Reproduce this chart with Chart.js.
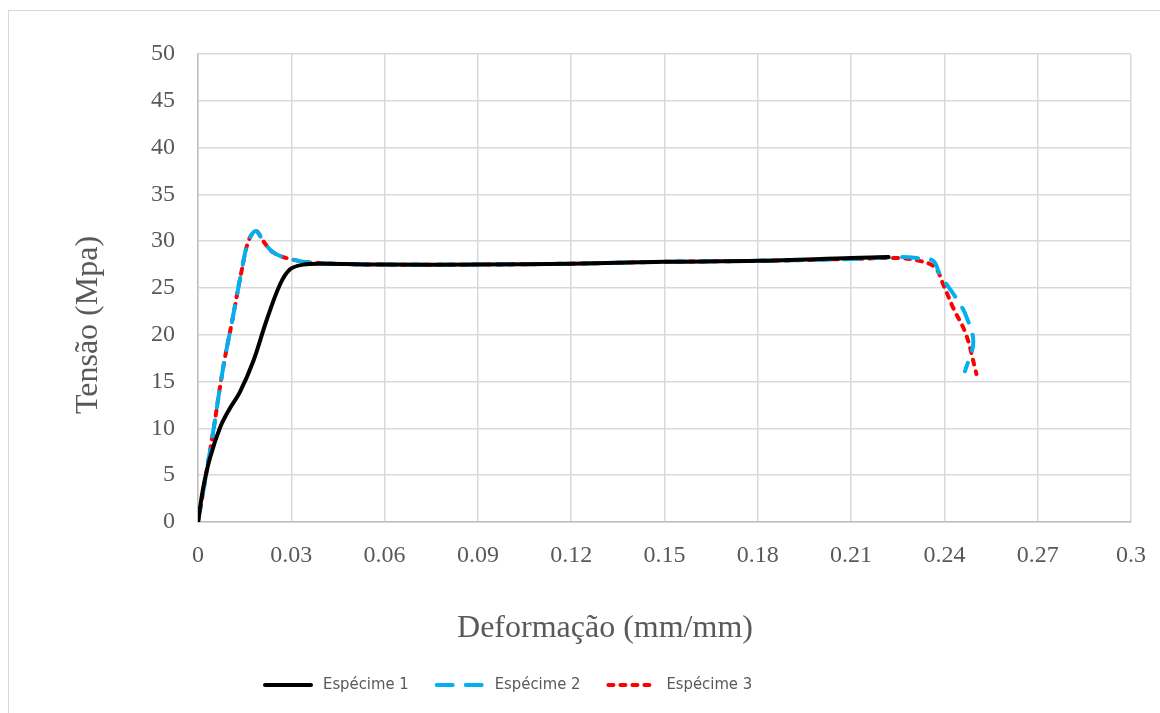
<!DOCTYPE html>
<html lang="pt">
<head>
<meta charset="utf-8">
<title>Tensão x Deformação</title>
<script src="https://cdn.jsdelivr.net/npm/chart.js@4.4.1/dist/chart.umd.min.js"></script>
<style>
  html, body { margin: 0; padding: 0; background: #fff; overflow: hidden; }
  .moldura { position: absolute; left: 8px; top: 10px; width: 1300px; height: 900px; border: 1px solid #d9d9d9; }
  #curvas { position: absolute; left: 0; top: 0; }
</style>
</head>
<body>
<div class="moldura"></div>
<canvas id="curvas" width="1160" height="713"></canvas>
<script>
// ticks dos eixos
const ticksX = [0, 0.03, 0.06, 0.09, 0.12, 0.15, 0.18, 0.21, 0.24, 0.27, 0.3];
const ticksY = [0, 5, 10, 15, 20, 25, 30, 35, 40, 45, 50];

// Espécime 1
const esp1X = [0, 0.0017, 0.0039, 0.0071, 0.0100, 0.0135, 0.0178, 0.0220, 0.0264, 0.0296, 0.0338, 0.040, 0.060, 0.090, 0.120, 0.150, 0.180, 0.210, 0.222];
const esp1Y = [0, 3.7, 6.9, 10.1, 12.0, 13.9, 17.2, 21.5, 25.4, 27.0, 27.5, 27.6, 27.5, 27.5, 27.6, 27.8, 27.9, 28.2, 28.3];

// Espécime 2
const esp2X = [0, 0.00225, 0.0049, 0.0081, 0.0114, 0.0140, 0.0162, 0.0186, 0.0210, 0.0242, 0.0296, 0.037, 0.0585, 0.090, 0.120, 0.150, 0.180, 0.210, 0.225, 0.231, 0.2364, 0.2385, 0.2444, 0.2470, 0.2493, 0.2466];
const esp2Y = [0, 4.4, 9.7, 16.5, 22.2, 26.8, 30.0, 31.1, 30.0, 28.8, 28.1, 27.7, 27.5, 27.5, 27.6, 27.8, 27.9, 28.1, 28.3, 28.2, 27.9, 26.5, 23.6, 22.0, 19.2, 16.1];

// Espécime 3
const esp3X = [0, 0.00225, 0.0049, 0.0081, 0.0114, 0.0140, 0.0162, 0.0186, 0.0210, 0.0242, 0.0296, 0.037, 0.0585, 0.090, 0.120, 0.150, 0.180, 0.210, 0.225, 0.232, 0.237, 0.2396, 0.2428, 0.2470, 0.2503];
const esp3Y = [0, 4.4, 9.7, 16.5, 22.2, 26.8, 30.0, 31.1, 30.0, 28.8, 28.1, 27.7, 27.5, 27.5, 27.6, 27.8, 27.9, 28.1, 28.2, 27.9, 27.2, 25.4, 22.9, 20.0, 15.8];

const pontos = (xs, ys) => xs.map((x, i) => ({ x: x, y: ys[i] }));

const corTexto = '#595959';
const fonteSerif = "'Liberation Serif', 'Times New Roman', serif";
const fonteSans = "'Liberation Sans Narrow', 'DejaVu Sans Condensed', 'Liberation Sans', sans-serif";

// titulos dos eixos e legenda desenhados na posição do original
const extras = {
  id: 'extras',
  afterDraw(chart) {
    const ctx = chart.ctx;
    ctx.save();
    ctx.fillStyle = corTexto;
    ctx.font = '32px ' + fonteSerif;
    ctx.textAlign = 'center';
    ctx.textBaseline = 'middle';
    ctx.fillText('Deformação (mm/mm)', 605, 629);

    ctx.save();
    ctx.translate(89, 325);
    ctx.rotate(-Math.PI / 2);
    ctx.fillText('Tensão (Mpa)', 0, 0);
    ctx.restore();

    // legenda
    ctx.font = '16.5px ' + fonteSans;
    ctx.textAlign = 'left';
    const largLinha = 50, folga = 10, entre = 26;
    let x = 263;
    const y = 685;
    chart.data.datasets.forEach(ds => {
      const w = ctx.measureText(ds.label).width;
      ctx.beginPath();
      ctx.strokeStyle = ds.borderColor;
      ctx.lineWidth = ds.borderWidth;
      ctx.lineCap = ds.borderCapStyle || 'butt';
      ctx.setLineDash(ds.borderDash || []);
      ctx.moveTo(x + 2, y);
      ctx.lineTo(x + largLinha - 2, y);
      ctx.stroke();
      ctx.setLineDash([]);
      ctx.fillStyle = corTexto;
      ctx.fillText(ds.label, x + largLinha + folga, y);
      x += largLinha + folga + w + entre;
    });
    ctx.restore();
  }
};

new Chart(document.getElementById('curvas'), {
  type: 'line',
  data: {
    datasets: [
      {
        label: 'Espécime 1',
        data: pontos(esp1X, esp1Y),
        borderColor: '#000000',
        borderWidth: 4,
        borderCapStyle: 'round',
        tension: 0.35
      },
      {
        label: 'Espécime 2',
        data: pontos(esp2X, esp2Y),
        borderColor: '#00B0F0',
        borderWidth: 4,
        borderDash: [16, 13],
        borderCapStyle: 'round',
        tension: 0.35
      },
      {
        label: 'Espécime 3',
        data: pontos(esp3X, esp3Y),
        borderColor: '#FF0000',
        borderWidth: 4,
        borderDash: [5, 7],
        borderCapStyle: 'round',
        tension: 0.35
      }
    ]
  },
  options: {
    responsive: false,
    animation: false,
    devicePixelRatio: 1,
    elements: { point: { radius: 0 } },
    layout: { padding: { left: 0, top: 54, right: 29, bottom: 0 } },
    plugins: {
      legend: { display: false },
      tooltip: { enabled: false }
    },
    scales: {
      x: {
        type: 'linear',
        min: 0,
        max: 0.3,
        afterBuildTicks: s => { s.ticks = ticksX.map(v => ({ value: v })); },
        afterFit: s => { s.height = 713 - 522; s.paddingLeft = 0; s.paddingRight = 0; },
        border: { color: '#bfbfbf', width: 1.5 },
        grid: { color: '#d9d9d9', lineWidth: 1.5, drawTicks: false },
        ticks: {
          padding: 19,
          maxRotation: 0,
          autoSkip: false,
          color: corTexto,
          font: { family: fonteSerif, size: 24 },
          callback: v => String(v)
        }
      },
      y: {
        min: 0,
        max: 50,
        afterBuildTicks: s => { s.ticks = ticksY.map(v => ({ value: v })); },
        afterFit: s => { s.width = 198; s.paddingTop = 0; s.paddingBottom = 0; },
        border: { color: '#bfbfbf', width: 1.5 },
        grid: { color: '#d9d9d9', lineWidth: 1.5, drawTicks: false },
        ticks: {
          padding: 23,
          color: corTexto,
          font: { family: fonteSerif, size: 24 }
        }
      }
    }
  },
  plugins: [extras]
});
</script>
</body>
</html>
